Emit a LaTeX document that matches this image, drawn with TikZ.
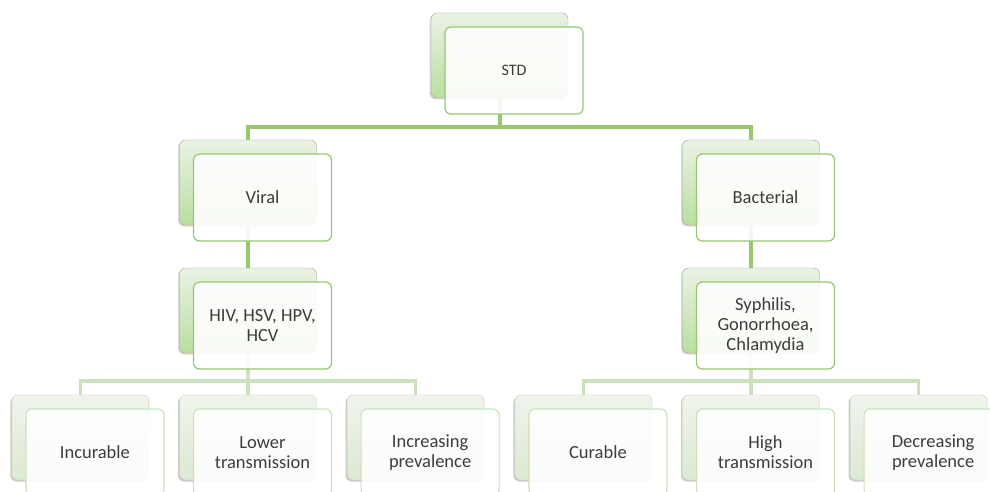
\documentclass[tikz,border=0pt]{standalone}
\usepackage{fontspec}
\setmainfont{Carlito}
\usetikzlibrary{positioning,backgrounds,shadows}

\definecolor{stemgreen}{RGB}{150,200,110}
\definecolor{twiggreen}{RGB}{205,225,190}
\definecolor{paletop}{RGB}{234,242,228}
\definecolor{palebot}{RGB}{186,222,160}
\definecolor{leaftop}{RGB}{240,244,236}
\definecolor{leafbot}{RGB}{220,233,211}
\definecolor{inkgray}{RGB}{60,60,60}

\tikzset{
  backbox/.style={rectangle, rounded corners=6pt, minimum width=137pt, minimum height=85pt,
    draw=gray!75, top color=paletop, bottom color=palebot,
    drop shadow={opacity=0.3, shadow xshift=-1.5pt, shadow yshift=-1.5pt}},
  leafback/.style={backbox, draw=gray!40, top color=leaftop, bottom color=leafbot,
    drop shadow={opacity=0.15, shadow xshift=-1.5pt, shadow yshift=-1.5pt}},
  frontbox/.style={rectangle, rounded corners=6pt, minimum width=138pt, minimum height=87pt,
    draw=stemgreen, line width=1.2pt, fill=white, fill opacity=0.9, text opacity=1,
    align=center, text=inkgray, font=\fontsize{18.5}{20}\selectfont},
  leaf/.style={frontbox, draw=twiggreen},
  trunk/.style={draw=stemgreen, line width=4pt},
  twig/.style={draw=twiggreen, line width=3.5pt}
}

\begin{document}
\begin{tikzpicture}[x=1pt, y=-1pt, on grid, node distance=127pt and 167.6pt]
   \clip (0,0) rectangle (990,492);

   % back boxes
   \node[backbox] (stdb) at (499.5,55.5) {};
   \node[backbox] (viralb) [below left=127pt and 251.5pt of stdb]  {};
   \node[backbox] (bactb)  [below right=127pt and 251.5pt of stdb] {};
   \node[backbox] (hivb)   [below=128pt of viralb] {};
   \node[backbox] (syphb)  [below=128pt of bactb]  {};
   \node[leafback] (incb)  [below left=127pt and 167.6pt of hivb]  {};
   \node[leafback] (lowb)  [below=127pt of hivb] {};
   \node[leafback] (incrb) [below right=127pt and 167.6pt of hivb] {};
   \node[leafback] (curb)  [below left=127pt and 167.6pt of syphb] {};
   \node[leafback] (highb) [below=127pt of syphb] {};
   \node[leafback] (decb)  [below right=127pt and 167.6pt of syphb] {};

   % front boxes
   \node[frontbox, font=\fontsize{16}{19}\selectfont] (std) [below right=15pt and 14.5pt of stdb] {STD};
   \node[frontbox] (viral) [below right=15pt and 14.5pt of viralb] {Viral};
   \node[frontbox] (bact)  [below right=15pt and 14.5pt of bactb]  {Bacterial};
   \node[frontbox] (hiv)   [below right=15pt and 14.5pt of hivb]   {HIV, HSV, HPV,\\HCV};
   \node[frontbox] (syph)  [below right=15pt and 14.5pt of syphb]  {Syphilis,\\Gonorrhoea,\\Chlamydia};
   \node[leaf] (inc)  [below right=15pt and 14.5pt of incb]  {Incurable};
   \node[leaf] (low)  [below right=15pt and 14.5pt of lowb]  {Lower\\transmission};
   \node[leaf] (incr) [below right=15pt and 14.5pt of incrb] {Increasing\\prevalence};
   \node[leaf] (cur)  [below right=15pt and 14.5pt of curb]  {Curable};
   \node[leaf] (high) [below right=15pt and 14.5pt of highb] {High\\transmission};
   \node[leaf] (dec)  [below right=15pt and 14.5pt of decb]  {Decreasing\\prevalence};

   % connectors
   \begin{scope}[on background layer]
     \coordinate[below=29pt of stdb.south] (topjoin);
     \coordinate[below=28pt of hivb.south] (vjoin);
     \coordinate[below=28pt of syphb.south] (bjoin);
     \draw[trunk] (stdb.south) -- (topjoin) -| (viralb.north);
     \draw[trunk] (topjoin) -| (bactb.north);
     \draw[trunk] (viralb.south) -- (hivb.north);
     \draw[trunk] (bactb.south) -- (syphb.north);
     \draw[twig] (hivb.south) -- (vjoin) -| (incb.north);
     \draw[twig] (vjoin) -| (incrb.north);
     \draw[twig] (vjoin) -- (lowb.north);
     \draw[twig] (syphb.south) -- (bjoin) -| (curb.north);
     \draw[twig] (bjoin) -| (decb.north);
     \draw[twig] (bjoin) -- (highb.north);
   \end{scope}
\end{tikzpicture}
\end{document}
